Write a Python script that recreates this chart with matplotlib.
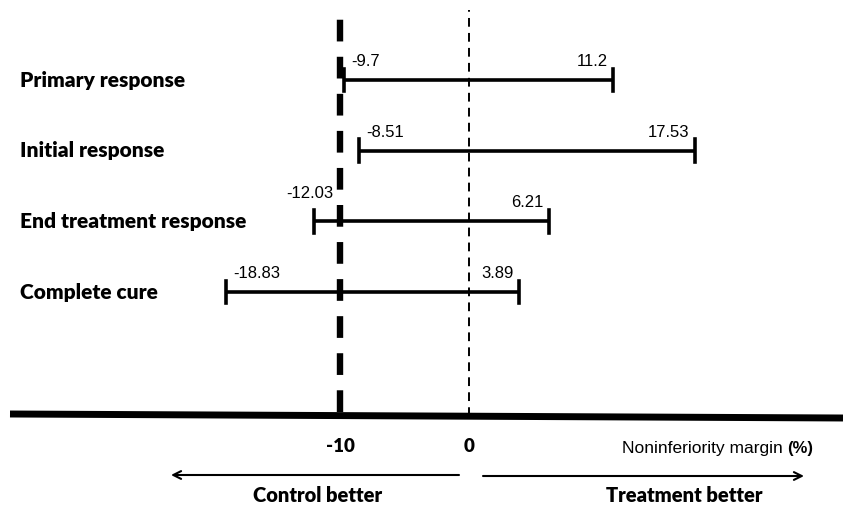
import numpy as np
import matplotlib.pyplot as plt

# data
categories = ["Primary response", "Initial response", "End treatment response", "Complete cure"]
lower = [-9.7, -8.51, -12.03, -18.83]
upper = [11.2, 17.53, 6.21, 3.89]
lower_txt = ["-9.7", "-8.51", "-12.03", "-18.83"]
upper_txt = ["11.2", "17.53", "6.21", "3.89"]
margin = -10

W, H = 843, 509
fig = plt.figure(figsize=(W / 100, H / 100), dpi=100)
ax = fig.add_axes([0, 0, 1, 1])
ax.set_axis_off()

# x: 0 at px 469, 12.9 px per unit ; y: category index, row 0 at px 80
x0, sx = 469, 12.9
y0, sy = 80, 70.7
ax.set_xlim(-x0 / sx, (W - x0) / sx)
ax.set_ylim((H - y0) / sy, -y0 / sy)


def fx(px):
    return px / W


def fy(py):
    return 1 - py / H


pos = np.arange(len(categories))
bold = dict(family="Lato", weight="heavy")

# reference lines
ax.axvline(margin, ymin=fy(412), ymax=fy(6), color="black", lw=4.6,
           dashes=(3.4, 2.4))
ax.axvline(0, ymin=fy(416), ymax=fy(10), color="black", lw=1.4,
           dashes=(4.5, 3.2))

# intervals
for i, (lo, hi) in enumerate(zip(lower, upper)):
    ax.plot([lo, hi], [pos[i], pos[i]], color="black", lw=2.6,
            solid_capstyle="butt")
    ax.plot([lo, lo], [pos[i] - 0.16, pos[i] + 0.16], color="black", lw=2.6)
    ax.plot([hi, hi], [pos[i] - 0.16, pos[i] + 0.16], color="black", lw=2.6)
    ax.text(-449 / sx, pos[i], categories[i], ha="left", va="center",
            fontsize=15, **bold)
    if i == 2:
        lo_off, lo_ha = (-3, 15), "center"
    else:
        lo_off, lo_ha = (5, 8), "left"
    ax.annotate(lower_txt[i], (lo, pos[i]), xytext=lo_off,
                textcoords="offset points", ha=lo_ha, va="bottom",
                fontsize=12, family="Liberation Sans")
    ax.annotate(upper_txt[i], (hi, pos[i]), xytext=(-4, 8),
                textcoords="offset points", ha="right", va="bottom",
                fontsize=12, family="Liberation Sans")

# baseline
ax.plot([fx(10), fx(W)], [fy(414), fy(418)], transform=ax.transAxes,
        color="black", lw=5, solid_capstyle="butt")

# axis labels
ax.text(margin, fy(447), "-10", transform=ax.get_xaxis_transform(),
        ha="center", va="center", fontsize=13.5, **bold)
ax.text(0, fy(447), "0", transform=ax.get_xaxis_transform(),
        ha="center", va="center", fontsize=13.5, **bold)
ax.text(fx(783), fy(449), "Noninferiority margin", transform=ax.transAxes,
        ha="right", va="center", fontsize=12.5, family="Liberation Sans")
ax.text(fx(787), fy(449), "(%)", transform=ax.transAxes,
        ha="left", va="center", fontsize=12, family="Liberation Sans",
        weight="bold")

# direction arrows
arrow = dict(arrowstyle="->", color="black", lw=1.5, mutation_scale=14,
             shrinkA=0, shrinkB=0)
ax.annotate("", xy=(fx(171), fy(475)), xytext=(fx(459), fy(475)),
            xycoords="axes fraction", arrowprops=arrow)
ax.annotate("", xy=(fx(804), fy(476)), xytext=(fx(483), fy(476)),
            xycoords="axes fraction", arrowprops=arrow)
ax.text(fx(318), fy(496), "Control better", transform=ax.transAxes,
        ha="center", va="center", fontsize=14.5, **bold)
ax.text(fx(684), fy(496), "Treatment better", transform=ax.transAxes,
        ha="center", va="center", fontsize=14.5, **bold)

fig.savefig("out.png", dpi=100)
